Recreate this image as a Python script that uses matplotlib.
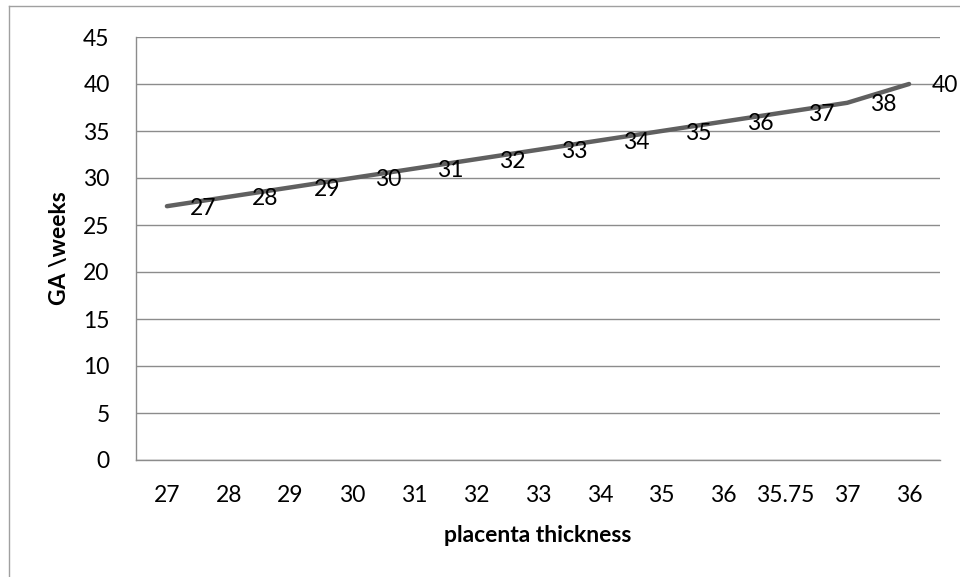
import matplotlib
matplotlib.use("Agg")
import matplotlib.pyplot as plt
from matplotlib.lines import Line2D

# categories on the x axis (as printed) and GA values
thickness_labels = ["27", "28", "29", "30", "31", "32", "33", "34", "35",
                    "36", "35.75", "37", "36"]
ga_weeks = [27, 28, 29, 30, 31, 32, 33, 34, 35, 36, 37, 38, 40]

plt.rcParams["font.family"] = ["Lato", "DejaVu Sans"]
FS = 16.5

fig = plt.figure(figsize=(9.6, 5.77), dpi=100)
ax = fig.add_axes([136 / 960, 1 - 460 / 577, 804 / 960, 423 / 577])

x = list(range(len(ga_weeks)))
ax.plot(x, ga_weeks, color="#606060", linewidth=3.2,
        solid_capstyle="round", solid_joinstyle="round", zorder=3)

for xi, val in zip(x, ga_weeks):
    ax.annotate(str(val), (xi, val), textcoords="offset pixels",
                xytext=(23, -2), ha="left", va="center",
                fontsize=FS, color="black", zorder=4,
                annotation_clip=False)

ax.set_xlim(-0.5, len(x) - 0.5)
ax.set_ylim(0, 45)
ax.set_yticks(range(0, 50, 5))
ax.set_xticks(x)
ax.set_xticklabels(thickness_labels)

ax.grid(axis="y", color="#8c8c8c", linewidth=1.0)
ax.set_axisbelow(True)
for side in ["top", "right"]:
    ax.spines[side].set_visible(False)
for side in ["left", "bottom"]:
    ax.spines[side].set_color("#8c8c8c")
    ax.spines[side].set_linewidth(1.0)

ax.tick_params(axis="both", length=0, labelsize=FS, colors="black")
ax.tick_params(axis="y", pad=19)
ax.tick_params(axis="x", pad=18)

ax.set_ylabel("GA \\weeks", fontsize=FS, fontweight="bold")
ax.set_xlabel("placenta thickness", fontsize=FS, fontweight="bold")
ax.yaxis.set_label_coords(-0.082, 0.5)
ax.xaxis.set_label_coords(0.5, -0.154)

# outer chart-area border (only left and top edges are in view)
fig.add_artist(Line2D([9 / 960, 9 / 960], [0, 1 - 6 / 577],
                      transform=fig.transFigure, color="#a0a0a0", linewidth=1.0))
fig.add_artist(Line2D([9 / 960, 1], [1 - 6 / 577, 1 - 6 / 577],
                      transform=fig.transFigure, color="#a0a0a0", linewidth=1.0))

fig.savefig("out.png", dpi=100)
